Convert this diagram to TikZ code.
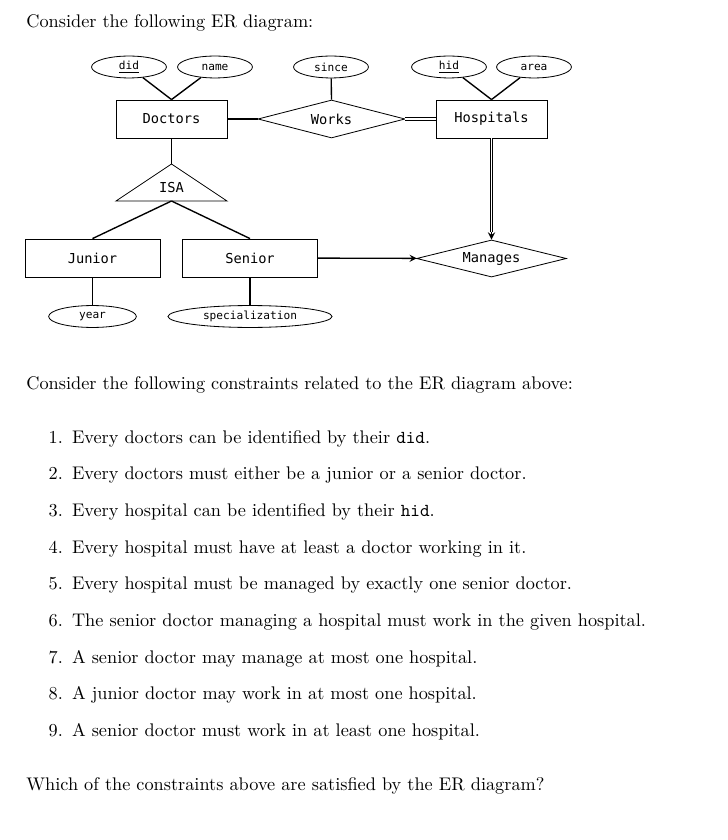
\documentclass[tikz,border=0pt]{standalone}
\usepackage{fontspec}
\newfontfamily\diagfont{DejaVu Sans Mono}
\usetikzlibrary{shapes.geometric}

\begin{document}
\begin{tikzpicture}[x=0.5474pt,y=-0.5474pt,
  entity/.style={rectangle, draw, line width=0.45pt, minimum width=60.8pt, minimum height=20.8pt, font=\diagfont\fontsize{7.5}{9}\selectfont},
  attr/.style={ellipse, draw, line width=0.45pt, minimum width=41pt, minimum height=12pt, inner sep=0pt, font=\diagfont\fontsize{6.1}{7}\selectfont},
  relship/.style={diamond, draw, line width=0.45pt, aspect=4, inner sep=0pt, minimum width=80.5pt, minimum height=20.8pt, font=\diagfont\fontsize{7.5}{9}\selectfont},
  link/.style={line width=0.75pt},
  item/.style={anchor=base west, inner sep=0pt}]
\useasboundingbox (0,0) rectangle (727,840);

\node[item](head) at (26,27.7) {Consider the following ER diagram:};

\node[attr](did) at (129,67) {\underline{did}};
\node[attr](name) at (215,67) {name};
\node[attr](since) at (331,67) {since};
\node[attr](hid) at (449,67) {\underline{hid}};
\node[attr](area) at (534,67) {area};
\node[entity](doctors) at (171.5,119) {Doctors};
\node[relship](works) at (331.5,119) {Works};
\node[entity](hospitals) at (491.5,119) {Hospitals};

\coordinate (isatop) at (171.5,164);
\coordinate (isabase) at (171.5,201);
\draw[line width=0.45pt] (isatop) -- (116,201) -- (227,201) -- cycle;
\node[font=\diagfont\fontsize{7.5}{9}\selectfont](isa) at (171.5,188) {ISA};

\node[entity, minimum width=73.9pt](junior) at (92.5,258) {Junior};
\node[entity, minimum width=73.9pt](senior) at (250,258) {Senior};
\node[relship, minimum width=82pt, minimum height=20.3pt](manages) at (491.5,258.5) {Manages};
\node[attr, minimum width=48pt](year) at (92.5,316.5) {year};
\node[attr, minimum width=89.8pt](spec) at (250,316.5) {specialization};

\draw[link] (did) -- (doctors.north);
\draw[link] (name) -- (doctors.north);
\draw[link] (since) -- (works.north);
\draw[link] (hid) -- (hospitals.north);
\draw[link] (area) -- (hospitals.north);
\draw[link] (doctors) -- (works);
\draw[line width=0.6pt, double, double distance=0.75pt] (works) -- (hospitals);
\draw[link] (doctors) -- (isatop);
\draw[link] (isabase) -- (junior.north);
\draw[link] (isabase) -- (senior.north);
\draw[link] (junior) -- (year);
\draw[link] (senior) -- (spec);
\draw[link,-stealth] (senior) -- (manages);
\draw[link,-stealth] (hospitals) -- (manages);
\draw[line width=0.6pt, double, double distance=0.9pt, shorten >=4pt] (hospitals) -- (manages);

\node[item](constraints) at (26,389) {Consider the following constraints related to the ER diagram above:};
\node[item](c1) at (48.3,443.3) {1.\hspace{5pt}Every doctors can be identified by their \texttt{did}.};
\node[item](c2) at (48.3,479.95) {2.\hspace{5pt}Every doctors must either be a junior or a senior doctor.};
\node[item](c3) at (48.3,516.6) {3.\hspace{5pt}Every hospital can be identified by their \texttt{hid}.};
\node[item](c4) at (48.3,553.25) {4.\hspace{5pt}Every hospital must have at least a doctor working in it.};
\node[item](c5) at (48.3,589.9) {5.\hspace{5pt}Every hospital must be managed by exactly one senior doctor.};
\node[item](c6) at (48.3,626.55) {6.\hspace{5pt}The senior doctor managing a hospital must work in the given hospital.};
\node[item](c7) at (48.3,663.2) {7.\hspace{5pt}A senior doctor may manage at most one hospital.};
\node[item](c8) at (48.3,699.85) {8.\hspace{5pt}A junior doctor may work in at most one hospital.};
\node[item](c9) at (48.3,736.5) {9.\hspace{5pt}A senior doctor must work in at least one hospital.};

\node[item](question) at (26,790.7) {Which of the constraints above are satisfied by the ER diagram?};
\end{tikzpicture}
\end{document}
